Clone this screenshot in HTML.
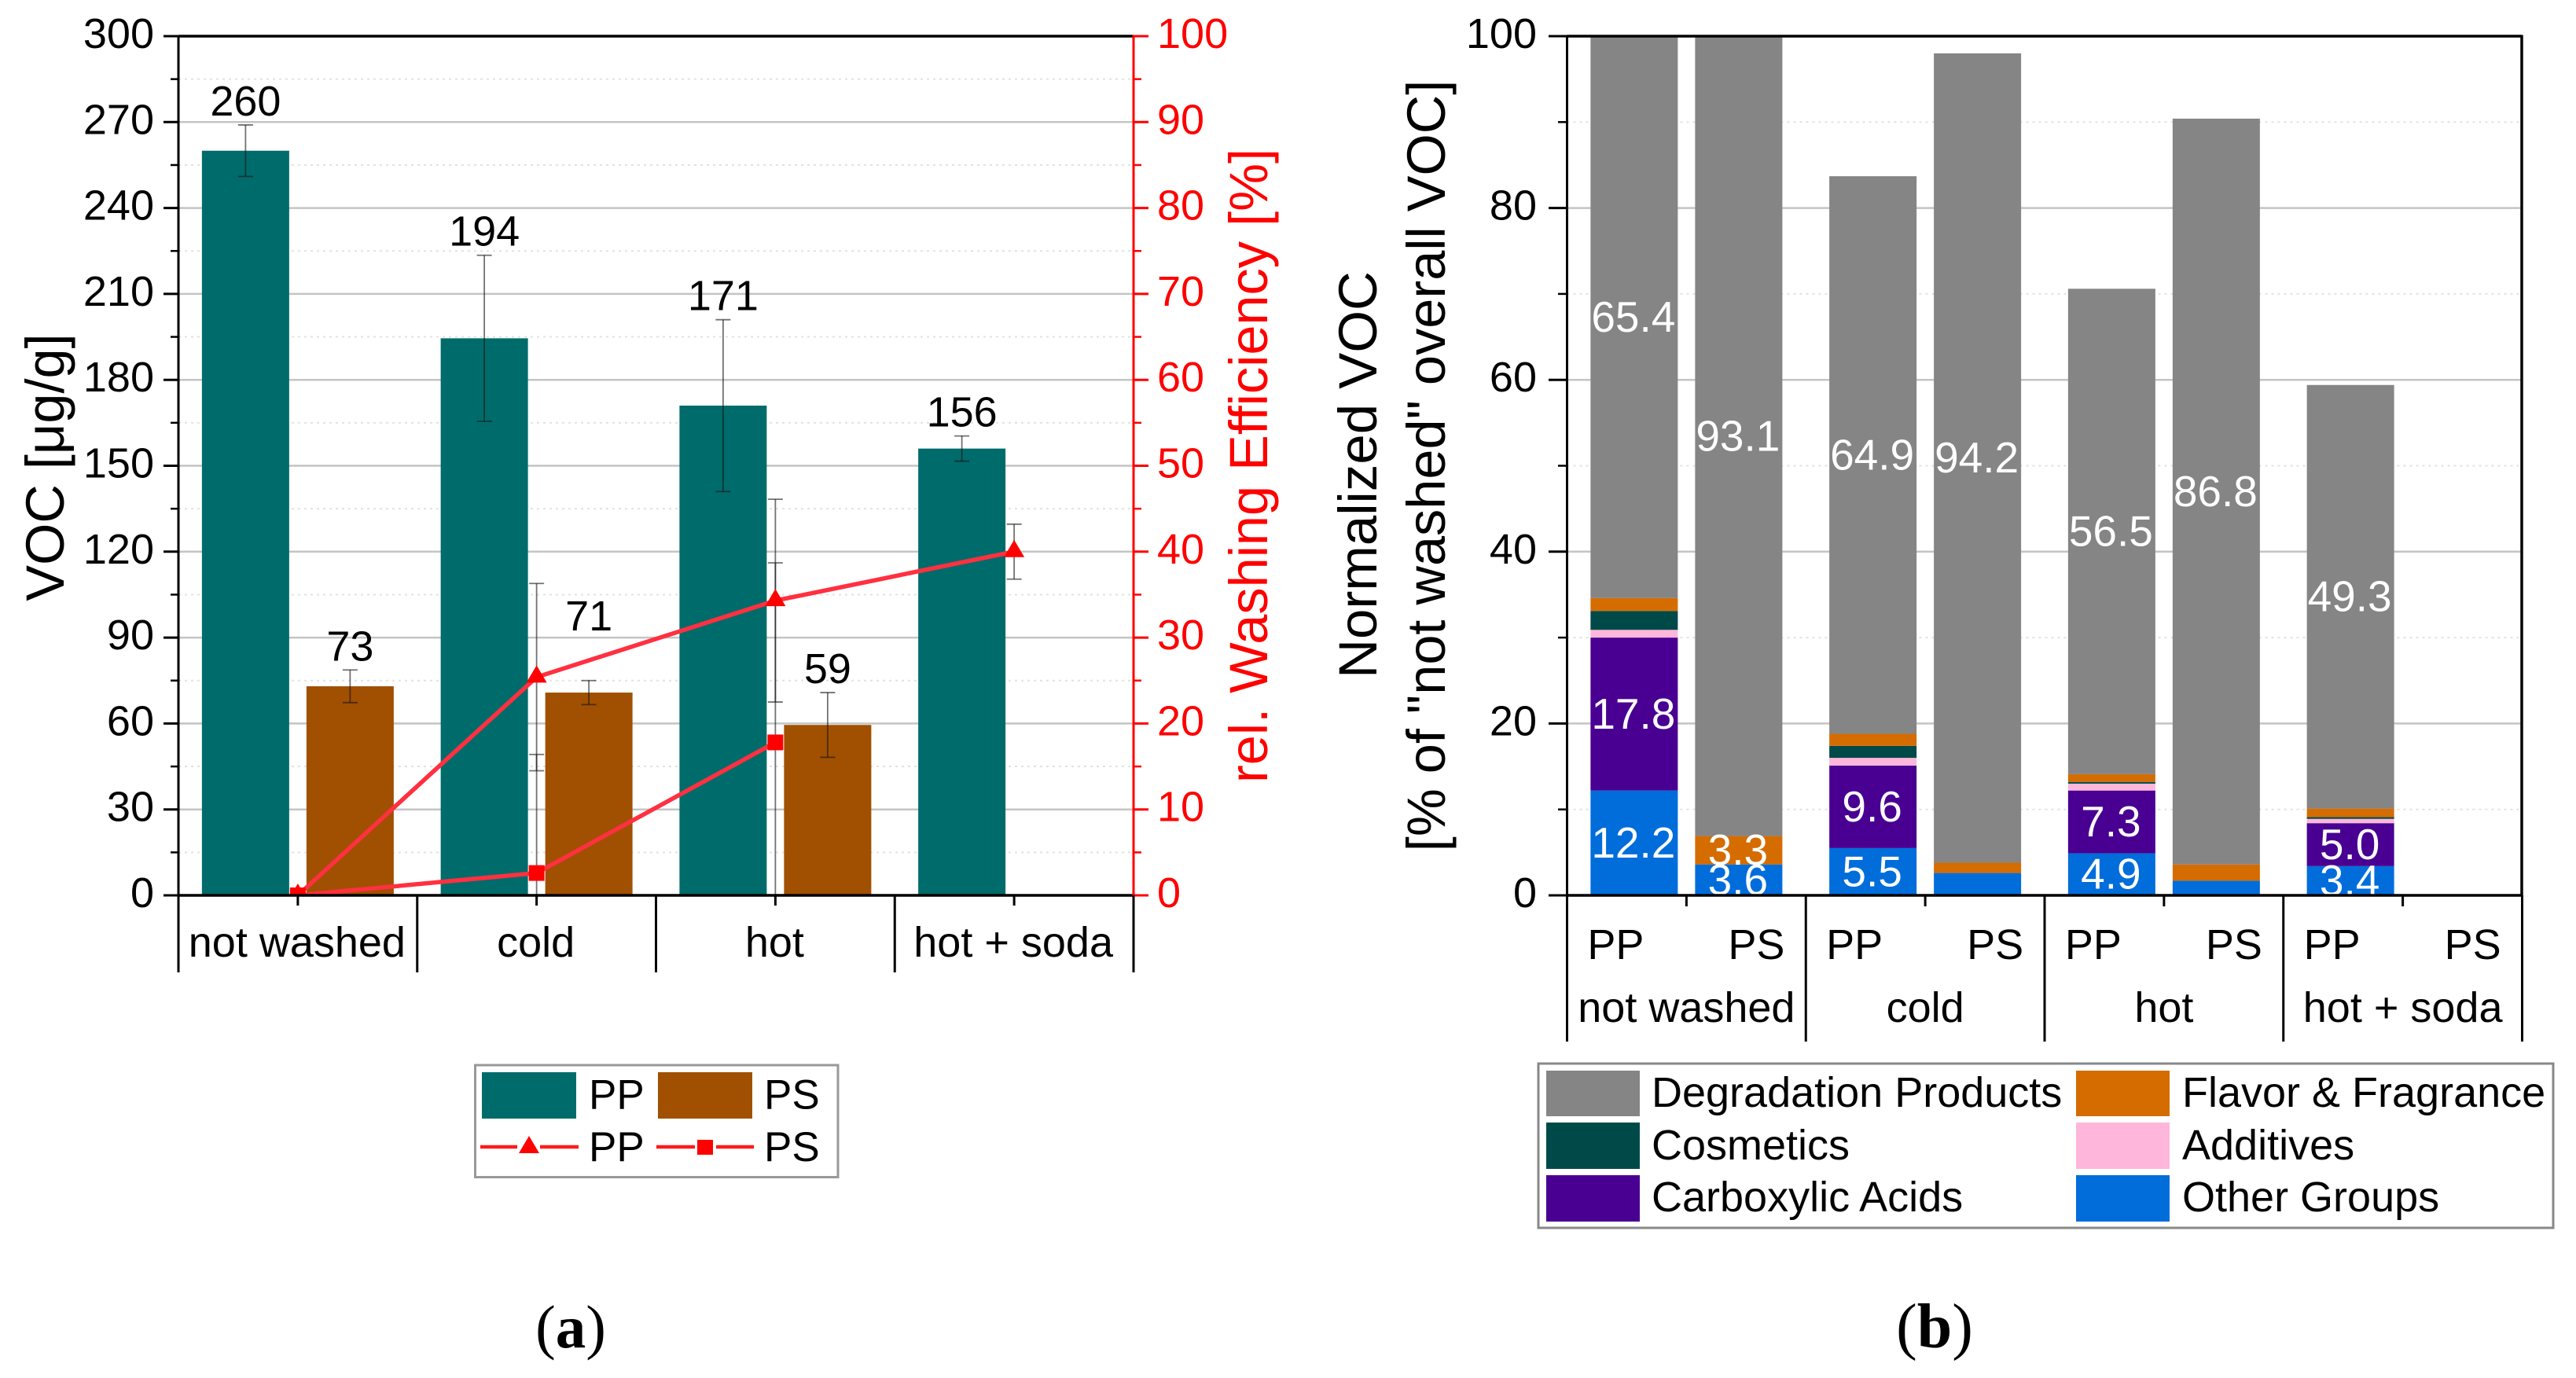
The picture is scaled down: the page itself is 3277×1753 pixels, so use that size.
<!DOCTYPE html>
<html lang="en">
<head>
<meta charset="utf-8">
<title>VOC and washing efficiency charts</title>
<style>
html,body{margin:0;padding:0;background:#fff;}
svg{display:block;font-family:"Liberation Sans",Arial,sans-serif;}
</style>
</head>
<body>
<svg id="fig" xmlns="http://www.w3.org/2000/svg" width="3277" height="1753" viewBox="0 0 3277 1753">
  <rect x="0" y="0" width="3277" height="1753" fill="#fff"/>
  <defs>
    <clipPath id="clipA"><rect x="227" y="46" width="1215" height="1093"/></clipPath>
  </defs>

  <g id="chartA"></g>
  <g id="chartB"></g>

  <text transform="translate(81 594.5) rotate(-90)" text-anchor="middle" font-size="68.5" fill="#000">VOC [μg/g]</text>
  <text transform="translate(1612 592.5) rotate(-90)" text-anchor="middle" font-size="68.5" fill="#ff0000">rel. Washing Efficiency [%]</text>
  <text transform="translate(1751 604) rotate(-90)" text-anchor="middle" font-size="69" fill="#000">Normalized VOC</text>
  <text transform="translate(1838 592.5) rotate(-90)" text-anchor="middle" font-size="68.5" fill="#000">[% of "not washed" overall VOC]</text>

  <g>
    <rect x="604.5" y="1355" width="461.5" height="142.5" fill="#fff" stroke="#999" stroke-width="3"/>
    <rect x="613" y="1364" width="120" height="59" fill="#006b6b"/>
    <text x="749" y="1410.5" font-size="53">PP</text>
    <rect x="837" y="1364" width="120" height="59" fill="#a05000"/>
    <text x="972" y="1410.5" font-size="53">PS</text>
    <line x1="611" x2="658" y1="1459" y2="1459" stroke="#ff1a1a" stroke-width="4.5"/>
    <line x1="687" x2="736" y1="1459" y2="1459" stroke="#ff1a1a" stroke-width="4.5"/>
    <polygon points="673,1445 660,1467 686,1467" fill="#ff0000"/>
    <text x="749" y="1477" font-size="53">PP</text>
    <line x1="835" x2="884" y1="1459" y2="1459" stroke="#ff1a1a" stroke-width="4.5"/>
    <line x1="911" x2="959" y1="1459" y2="1459" stroke="#ff1a1a" stroke-width="4.5"/>
    <rect x="887" y="1450" width="20" height="19" fill="#ff0000"/>
    <text x="972" y="1477" font-size="53">PS</text>
  </g>

  <g>
    <rect x="1957" y="1353" width="1291" height="209" fill="#fff" stroke="#888" stroke-width="3"/>
    <rect x="1967" y="1362" width="119" height="58" fill="#858585"/>
    <text x="2101" y="1408" font-size="54">Degradation Products</text>
    <rect x="1967" y="1428" width="119" height="59" fill="#004949"/>
    <text x="2101" y="1475" font-size="54">Cosmetics</text>
    <rect x="1967" y="1495" width="119" height="59" fill="#490092"/>
    <text x="2101" y="1541" font-size="54">Carboxylic Acids</text>
    <rect x="2641" y="1362" width="119" height="58" fill="#d46c00"/>
    <text x="2776" y="1408" font-size="54">Flavor &amp; Fragrance</text>
    <rect x="2641" y="1428" width="119" height="59" fill="#ffb6db"/>
    <text x="2776" y="1475" font-size="54">Additives</text>
    <rect x="2641" y="1495" width="119" height="59" fill="#006ddb"/>
    <text x="2776" y="1541" font-size="54">Other Groups</text>
  </g>

  <text x="726" y="1714" text-anchor="middle" font-size="77" style="font-family:'Liberation Serif',serif">(<tspan font-weight="bold">a</tspan>)</text>
  <text x="2461" y="1714" text-anchor="middle" font-size="80" style="font-family:'Liberation Serif',serif">(<tspan font-weight="bold">b</tspan>)</text>
</svg>

<script>
// ---- Chart A data ----
const categories = ['not washed', 'cold', 'hot', 'hot + soda'];
const vocPP = [260, 194.5, 171, 156];
const vocPPErr = [9, 29, 30, 4.4];
const vocPPLabels = ['260', '194', '171', '156'];
const vocPS = [73, 70.8, 59.5];
const vocPSErr = [5.7, 4.2, 11.3];
const vocPSLabels = ['73', '71', '59'];
const effPP = [0, 25.4, 34.3, 40];
const effPPErr = [0, 10.9, 11.8, 3.2];
const effPS = [0, 2.6, 17.8];
const effPSErr = [0, 13.8, 20.9];
const vocTickLabels = ['0', '30', '60', '90', '120', '150', '180', '210', '240', '270', '300'];
const effTickLabels = ['0', '10', '20', '30', '40', '50', '60', '70', '80', '90', '100'];

// ---- Chart B data (one entry per bar: PP, PS for each category) ----
const barPolymers = ['PP', 'PS', 'PP', 'PS', 'PP', 'PS', 'PP', 'PS'];
const otherGroups = [12.2, 3.6, 5.5, 2.6, 4.9, 1.7, 3.4, 0];
const carboxylicAcids = [17.8, 0, 9.6, 0, 7.3, 0, 5.0, 0];
const additives = [0.9, 0, 0.9, 0, 0.8, 0, 0.5, 0];
const cosmetics = [2.2, 0, 1.4, 0, 0.2, 0, 0.2, 0];
const flavorFragrance = [1.5, 3.3, 1.4, 1.2, 0.9, 1.9, 1.0, 0];
const degradationProducts = [65.4, 93.1, 64.9, 94.2, 56.5, 86.8, 49.3, 0];
const normTickLabels = ['0', '20', '40', '60', '80', '100'];

const stackSeries = [otherGroups, carboxylicAcids, additives, cosmetics, flavorFragrance, degradationProducts];
const stackNames = ['other-groups', 'carboxylic-acids', 'additives', 'cosmetics', 'flavor-fragrance', 'degradation-products'];
const stackColors = ['#006ddb', '#490092', '#ffb6db', '#004949', '#d46c00', '#858585'];

// ---- Geometry and axis functions ----
const PLOT_TOP = 46, PLOT_BOTTOM = 1139;
const A_LEFT = 227, A_RIGHT = 1442;
const B_LEFT = 1993.5, B_RIGHT = 3208;
const CAT_W = 303.75, BAR_W = 111, BAR_OFF = 66.5;
const PH = PLOT_BOTTOM - PLOT_TOP;
const FS = 54;
function yVoc(v) { return PLOT_BOTTOM - v / 300 * PH; }
function yEff(v) { return PLOT_BOTTOM - v / 100 * PH; }
function yNorm(v) { return PLOT_BOTTOM - v / 100 * PH; }
function xA(i) { return A_LEFT + (i + 0.5) * CAT_W; }
function xB(i) { return B_LEFT + (i + 0.5) * CAT_W; }

const NS = 'http://www.w3.org/2000/svg';
function mk(tag, attrs, parent, text) {
  const e = document.createElementNS(NS, tag);
  for (const k in attrs) e.setAttribute(k, attrs[k]);
  if (text !== undefined) e.textContent = text;
  parent.appendChild(e);
  return e;
}
function slug(s) { return s.replace(/\s*\+\s*/g, '-').replace(/\s+/g, '-'); }

const chartA = document.getElementById('chartA');
const chartB = document.getElementById('chartB');

function drawGrid(parent, left, right, majorYs, minorYs, prefix) {
  minorYs.forEach(function (y, i) {
    const g = mk('line', { x1: left, x2: right, y1: y, y2: y, stroke: '#e2e2e2', 'stroke-width': 2, 'stroke-dasharray': '3 5' }, parent);
    
    
  });
  majorYs.forEach(function (y, i) {
    const g = mk('line', { x1: left, x2: right, y1: y, y2: y, stroke: '#c4c4c4', 'stroke-width': 2.5 }, parent);
    
    
  });
}

function drawErr(parent, x, yHi, yLo, name) {
  const stroke = 'rgba(20,20,20,0.6)';
  const v = mk('line', { x1: x, x2: x, y1: yHi, y2: yLo, stroke: stroke, 'stroke-width': 1.8 }, parent);
  
  
  const t = mk('line', { x1: x - 9.5, x2: x + 9.5, y1: yHi, y2: yHi, stroke: stroke, 'stroke-width': 1.8 }, parent);
  
  
  const b = mk('line', { x1: x - 9.5, x2: x + 9.5, y1: yLo, y2: yLo, stroke: stroke, 'stroke-width': 1.8 }, parent);
  
  
}

// ================= Chart A =================
(function () {
  const majors = vocTickLabels.map(function (t) { return yVoc(+t); }).filter(function (y) { return y > PLOT_TOP + 1 && y < PLOT_BOTTOM - 1; });
  const minors = vocTickLabels.slice(1).map(function (t) { return yVoc(+t - 15); });
  drawGrid(chartA, A_LEFT, A_RIGHT, majors, minors, 'chart-a');

  vocPP.forEach(function (v, i) {
    const r = mk('rect', { x: xA(i) - BAR_OFF - BAR_W / 2, y: yVoc(v), width: BAR_W, height: PLOT_BOTTOM - yVoc(v), fill: '#006b6b' }, chartA);
    
    
  });
  vocPS.forEach(function (v, i) {
    const r = mk('rect', { x: xA(i) + BAR_OFF - BAR_W / 2, y: yVoc(v), width: BAR_W, height: PLOT_BOTTOM - yVoc(v), fill: '#a05000' }, chartA);
    
    
  });

  vocPP.forEach(function (v, i) {
    drawErr(chartA, xA(i) - BAR_OFF, yVoc(v + vocPPErr[i]), yVoc(v - vocPPErr[i]), 'error-bar-pp-' + slug(categories[i]));
    const t = mk('text', { x: xA(i) - BAR_OFF, y: yVoc(v + vocPPErr[i]) - 12, 'text-anchor': 'middle', 'font-size': FS }, chartA, vocPPLabels[i]);
    
    
  });
  vocPS.forEach(function (v, i) {
    drawErr(chartA, xA(i) + BAR_OFF, yVoc(v + vocPSErr[i]), yVoc(v - vocPSErr[i]), 'error-bar-ps-' + slug(categories[i]));
    const lift = i === 1 ? 64 : 12;
    const t = mk('text', { x: xA(i) + BAR_OFF, y: yVoc(v + vocPSErr[i]) - lift, 'text-anchor': 'middle', 'font-size': FS }, chartA, vocPSLabels[i]);
    
    
  });

  // efficiency series, clipped to the plot
  const clipped = mk('g', { 'clip-path': 'url(#clipA)' }, chartA);
  
  

  effPP.forEach(function (v, i) {
    if (effPPErr[i] > 0) drawErr(clipped, xA(i), yEff(v + effPPErr[i]), yEff(v - effPPErr[i]), 'error-bar-efficiency-pp-' + slug(categories[i]));
  });
  effPS.forEach(function (v, i) {
    if (effPSErr[i] > 0) drawErr(clipped, xA(i), yEff(v + effPSErr[i]), yEff(v - effPSErr[i]), 'error-bar-efficiency-ps-' + slug(categories[i]));
  });

  const ptsPP = effPP.map(function (v, i) { return xA(i) + ',' + yEff(v); }).join(' ');
  const linePP = mk('polyline', { points: ptsPP, fill: 'none', stroke: '#ff3040', 'stroke-width': 5.5 }, clipped);
  
  
  const ptsPS = effPS.map(function (v, i) { return xA(i) + ',' + yEff(v); }).join(' ');
  const linePS = mk('polyline', { points: ptsPS, fill: 'none', stroke: '#ff3040', 'stroke-width': 5.5 }, clipped);
  
  

  effPS.forEach(function (v, i) {
    const s = mk('rect', { x: xA(i) - 10, y: yEff(v) - 10, width: 20, height: 20, fill: '#ff0000' }, clipped);
    
    
  });
  effPP.forEach(function (v, i) {
    const x = xA(i), y = yEff(v);
    const p = mk('polygon', { points: x + ',' + (y - 15) + ' ' + (x - 13) + ',' + (y + 7) + ' ' + (x + 13) + ',' + (y + 7), fill: '#ff0000' }, clipped);
    
    
  });

  // left axis
  const axL = mk('line', { x1: A_LEFT, x2: A_LEFT, y1: PLOT_TOP - 1.5, y2: 1237, stroke: '#000', 'stroke-width': 3 }, chartA);
  
  
  const axT = mk('line', { x1: A_LEFT, x2: A_RIGHT, y1: PLOT_TOP, y2: PLOT_TOP, stroke: '#000', 'stroke-width': 3.5 }, chartA);
  
  
  const axB = mk('line', { x1: A_LEFT, x2: A_RIGHT, y1: PLOT_BOTTOM, y2: PLOT_BOTTOM, stroke: '#000', 'stroke-width': 3.5 }, chartA);
  
  

  vocTickLabels.forEach(function (lbl) {
    const y = yVoc(+lbl);
    const t = mk('line', { x1: 208, x2: A_LEFT, y1: y, y2: y, stroke: '#000', 'stroke-width': 3 }, chartA);
    
    
    const tx = mk('text', { x: 196, y: y + 15, 'text-anchor': 'end', 'font-size': FS }, chartA, lbl);
    
    
  });
  minors.forEach(function (y, i) {
    const t = mk('line', { x1: 217, x2: A_LEFT, y1: y, y2: y, stroke: '#000', 'stroke-width': 2.5 }, chartA);
    
    
  });

  // right axis
  const axR = mk('line', { x1: A_RIGHT, x2: A_RIGHT, y1: PLOT_TOP - 1.5, y2: PLOT_BOTTOM, stroke: '#ff0000', 'stroke-width': 3 }, chartA);
  
  
  effTickLabels.forEach(function (lbl) {
    const y = yEff(+lbl);
    const t = mk('line', { x1: A_RIGHT, x2: 1461, y1: y, y2: y, stroke: '#ff0000', 'stroke-width': 3 }, chartA);
    
    
    const tx = mk('text', { x: 1472, y: y + 15, 'font-size': FS, fill: '#ff0000' }, chartA, lbl);
    
    
  });
  effTickLabels.slice(1).forEach(function (lbl, i) {
    const y = yEff(+lbl - 5);
    const t = mk('line', { x1: A_RIGHT, x2: 1452, y1: y, y2: y, stroke: '#ff0000', 'stroke-width': 2.5 }, chartA);
    
    
  });

  // category axis
  categories.forEach(function (c, i) {
    const tick = mk('line', { x1: xA(i), x2: xA(i), y1: PLOT_BOTTOM, y2: 1152, stroke: '#000', 'stroke-width': 3 }, chartA);
    
    
    const sep = mk('line', { x1: A_LEFT + (i + 1) * CAT_W, x2: A_LEFT + (i + 1) * CAT_W, y1: PLOT_BOTTOM, y2: 1237, stroke: '#000', 'stroke-width': 3 }, chartA);
    
    
    const tx = mk('text', { x: xA(i) - 1, y: 1217, 'text-anchor': 'middle', 'font-size': FS }, chartA, c);
    
    
  });
})();

// ================= Chart B =================
(function () {
  const majors = normTickLabels.map(function (t) { return yNorm(+t); }).filter(function (y) { return y > PLOT_TOP + 1 && y < PLOT_BOTTOM - 1; });
  const minors = normTickLabels.slice(1).map(function (t) { return yNorm(+t - 10); });
  drawGrid(chartB, B_LEFT, B_RIGHT, majors, minors, 'chart-b');

  function barX(k) { return xB(Math.floor(k / 2)) + (k % 2 === 0 ? -BAR_OFF : BAR_OFF); }

  const labels = [];
  barPolymers.forEach(function (poly, k) {
    let base = 0;
    stackSeries.forEach(function (series, s) {
      const v = series[k];
      if (v > 0) {
        const seg = mk('rect', { x: barX(k) - BAR_W / 2, y: yNorm(base + v), width: BAR_W, height: yNorm(base) - yNorm(base + v), fill: stackColors[s] }, chartB);
        
        
        if (v >= 3) labels.push({ k: k, s: s, v: v, mid: base + v / 2 });
      }
      base += v;
    });
  });

  labels.forEach(function (l) {
    const t = mk('text', { x: barX(l.k) - 1, y: yNorm(l.mid) + 18.5, 'text-anchor': 'middle', 'font-size': 55, fill: '#fff' }, chartB, l.v.toFixed(1));
    
    
  });

  const axL = mk('line', { x1: B_LEFT, x2: B_LEFT, y1: PLOT_TOP - 1.5, y2: 1325, stroke: '#000', 'stroke-width': 3 }, chartB);
  
  
  const axT = mk('line', { x1: B_LEFT, x2: B_RIGHT, y1: PLOT_TOP, y2: PLOT_TOP, stroke: '#000', 'stroke-width': 3.5 }, chartB);
  
  
  const axB = mk('line', { x1: B_LEFT, x2: B_RIGHT, y1: PLOT_BOTTOM, y2: PLOT_BOTTOM, stroke: '#000', 'stroke-width': 3.5 }, chartB);
  
  
  const axR = mk('line', { x1: B_RIGHT, x2: B_RIGHT, y1: PLOT_TOP - 1.5, y2: PLOT_BOTTOM, stroke: '#000', 'stroke-width': 3.5 }, chartB);
  
  

  normTickLabels.forEach(function (lbl) {
    const y = yNorm(+lbl);
    const t = mk('line', { x1: 1970, x2: B_LEFT, y1: y, y2: y, stroke: '#000', 'stroke-width': 3 }, chartB);
    
    
    const tx = mk('text', { x: 1955, y: y + 15, 'text-anchor': 'end', 'font-size': FS }, chartB, lbl);
    
    
  });
  minors.forEach(function (y, i) {
    const t = mk('line', { x1: 1982, x2: B_LEFT, y1: y, y2: y, stroke: '#000', 'stroke-width': 2.5 }, chartB);
    
    
  });

  categories.forEach(function (c, i) {
    const tick = mk('line', { x1: xB(i), x2: xB(i), y1: PLOT_BOTTOM, y2: 1153, stroke: '#000', 'stroke-width': 3 }, chartB);
    
    
    const sep = mk('line', { x1: B_LEFT + (i + 1) * CAT_W, x2: B_LEFT + (i + 1) * CAT_W, y1: PLOT_BOTTOM, y2: 1325, stroke: '#000', 'stroke-width': 3 }, chartB);
    
    
    const tx = mk('text', { x: xB(i), y: 1300, 'text-anchor': 'middle', 'font-size': FS }, chartB, c);
    
    
  });
  barPolymers.forEach(function (poly, k) {
    const x = xB(Math.floor(k / 2)) + (k % 2 === 0 ? -90 : 89);
    const tx = mk('text', { x: x, y: 1220, 'text-anchor': 'middle', 'font-size': FS }, chartB, poly);
    
    
  });
})();
</script>
</body>
</html>
